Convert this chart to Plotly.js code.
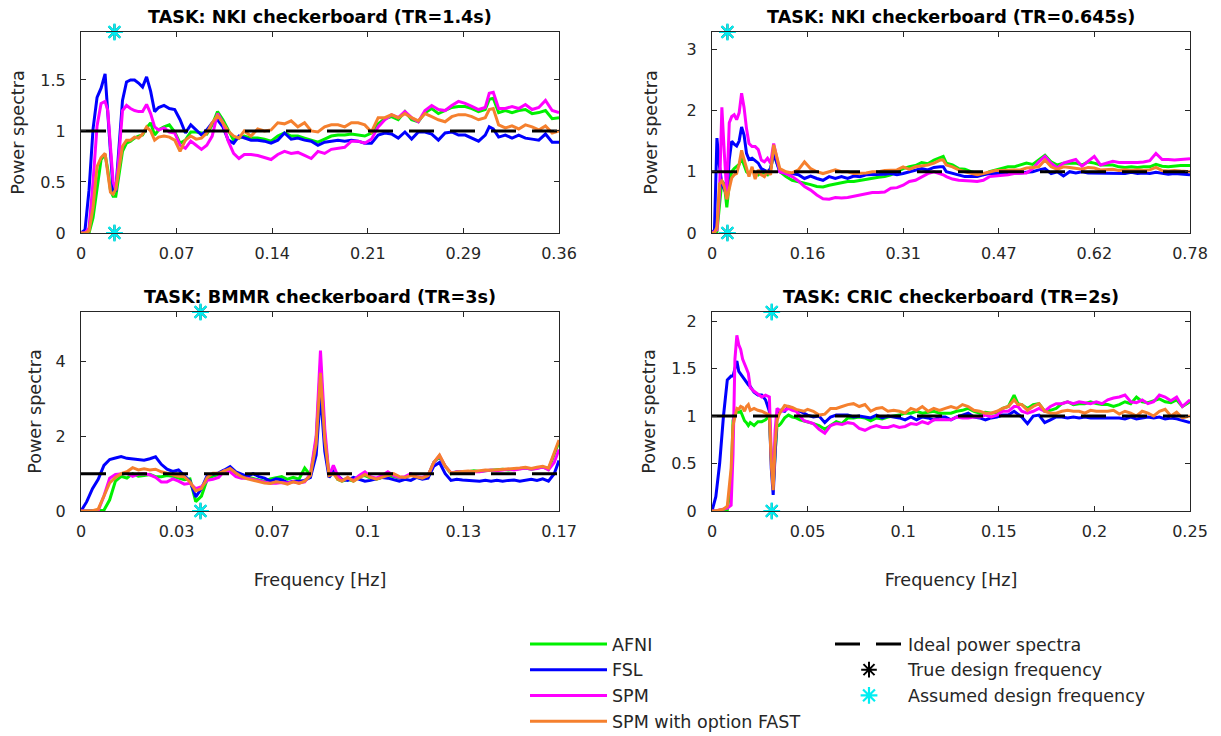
<!DOCTYPE html>
<html>
<head>
<meta charset="utf-8">
<script src="https://cdn.plot.ly/plotly-3.0.1.min.js"></script>
<style>html,body{margin:0;padding:0;background:#fff}#chart{width:1221px;height:736px}</style>
</head>
<body>
<div id="chart"></div>
<script>
// ---------- labels ----------
const methods = ['AFNI', 'FSL', 'SPM', 'SPM with option FAST'];
const panelTitles = ['TASK: NKI checkerboard (TR=1.4s)', 'TASK: NKI checkerboard (TR=0.645s)',
                     'TASK: BMMR checkerboard (TR=3s)', 'TASK: CRIC checkerboard (TR=2s)'];
const xTickTextTL = ['0', '0.07', '0.14', '0.21', '0.29', '0.36'];
const xTickTextTR = ['0', '0.16', '0.31', '0.47', '0.62', '0.78'];
const xTickTextBL = ['0', '0.03', '0.07', '0.1', '0.13', '0.17'];
const xTickTextBR = ['0', '0.05', '0.1', '0.15', '0.2', '0.25'];
const yTicksTL = [0, 0.5, 1, 1.5];
const yTicksTR = [0, 1, 2, 3];
const yTicksBL = [0, 2, 4];
const yTicksBR = [0, 0.5, 1, 1.5, 2];
const nyquist = [0.3571, 0.7752, 0.16667, 0.25];
const yTop = [1.97, 3.28, 5.33, 2.095];
const designFreq = [0.025, 0.025, 0.041667, 0.03125];
const idealLevel = 1;

// ---------- NKI TR=1.4s ----------
const fTL = [0,0.003,0.006,0.009,0.012,0.015,0.018,0.02,0.022,0.024,
0.026,0.028,0.031,0.034,0.037,0.04,0.043,0.046,0.049,0.052,
0.055,0.058,0.062,0.066,0.07,0.074,0.078,0.082,0.086,0.09,
0.094,0.098,0.102,0.106,0.11,0.114,0.118,0.122,0.127,0.132,
0.137,0.142,0.147,0.152,0.157,0.162,0.167,0.172,0.177,0.182,
0.187,0.192,0.197,0.202,0.207,0.212,0.217,0.222,0.227,0.232,
0.237,0.242,0.247,0.252,0.257,0.262,0.267,0.272,0.277,0.282,
0.287,0.292,0.297,0.302,0.305,0.308,0.312,0.317,0.322,0.327,
0.332,0.337,0.342,0.347,0.352,0.3571];
const afniTL = [0,0,0,0.15,0.45,0.72,0.77,0.62,0.42,0.36,
0.36,0.55,0.8,0.88,0.9,0.93,0.95,0.96,1.03,1.08,
0.96,1.01,1.04,1.06,0.99,0.88,0.91,0.99,0.99,0.98,
0.97,1.06,1.19,1.11,1.01,0.91,0.93,0.95,0.93,0.93,
0.92,0.9,0.95,0.98,0.95,0.95,0.93,0.91,0.89,0.92,
0.95,0.96,0.96,0.97,0.96,0.95,0.98,1.07,1.12,1.14,
1.11,1.19,1.11,1.09,1.18,1.22,1.17,1.2,1.23,1.24,
1.24,1.22,1.19,1.21,1.31,1.32,1.18,1.2,1.18,1.2,
1.21,1.17,1.18,1.2,1.12,1.13];
const fslTL = [0,0.03,0.42,1.02,1.33,1.42,1.56,1.2,0.75,0.42,
0.42,0.75,1.3,1.48,1.5,1.5,1.47,1.43,1.53,1.39,
1.19,1.23,1.25,1.22,1.21,1.11,0.98,1.06,1.01,0.96,
1.01,1.08,1.11,1.04,0.91,0.88,0.95,0.93,0.91,0.91,
0.9,0.88,0.91,0.98,0.92,0.93,0.91,0.9,0.86,0.89,
0.9,0.91,0.9,0.91,0.9,0.88,0.88,0.96,0.98,0.97,
0.93,0.99,0.92,0.99,0.99,0.97,0.91,0.98,0.99,0.96,
0.96,0.93,0.9,0.96,1.04,1.02,0.94,0.96,0.93,0.96,
0.93,0.92,0.91,0.97,0.89,0.89];
const spmTL = [0,0,0.05,0.5,1.05,1.27,1.29,1.2,0.85,0.5,
0.42,0.7,1.2,1.25,1.22,1.2,1.19,1.19,1.26,1.17,
1.04,1.01,1.03,0.99,0.98,0.86,0.83,0.9,0.86,0.82,
0.86,0.95,1.17,1.08,0.9,0.78,0.73,0.77,0.77,0.76,
0.74,0.72,0.77,0.8,0.78,0.79,0.76,0.73,0.8,0.78,
0.82,0.83,0.84,0.9,0.9,0.88,0.92,1.04,1.11,1.16,
1.13,1.19,1.13,1.09,1.2,1.25,1.21,1.2,1.25,1.29,
1.27,1.24,1.21,1.23,1.37,1.38,1.22,1.22,1.24,1.22,
1.26,1.21,1.23,1.3,1.2,1.18];
const fastTL = [0,0,0.02,0.25,0.65,0.74,0.78,0.6,0.4,0.38,
0.43,0.6,0.85,0.91,0.91,0.94,0.93,0.97,1.04,1.0,
0.91,0.94,0.95,0.94,0.91,0.8,0.91,0.95,0.92,0.93,
0.98,1.08,1.15,1.08,1.0,0.95,0.93,1.0,0.95,1.02,
1.0,1.01,1.08,1.07,1.1,1.04,1.08,1.0,0.99,1.04,
1.06,1.06,1.04,1.08,1.08,1.06,0.99,1.13,1.13,1.16,
1.13,1.17,1.13,1.1,1.17,1.14,1.11,1.09,1.14,1.16,
1.16,1.14,1.11,1.13,1.21,1.22,1.06,1.03,1.05,1.02,
1.06,1.04,1.01,1.05,0.98,1.0];

// ---------- NKI TR=0.645s ----------
const fTR = [0,0.004,0.008,0.012,0.016,0.02,0.024,0.028,0.032,0.036,
0.04,0.044,0.048,0.052,0.056,0.06,0.065,0.07,0.075,0.08,
0.085,0.09,0.095,0.1,0.11,0.12,0.13,0.14,0.15,0.16,
0.17,0.18,0.19,0.2,0.21,0.22,0.23,0.24,0.25,0.26,
0.27,0.28,0.29,0.3,0.31,0.32,0.33,0.34,0.35,0.36,
0.37,0.375,0.38,0.39,0.4,0.41,0.42,0.43,0.44,0.45,
0.46,0.47,0.48,0.49,0.5,0.51,0.52,0.53,0.54,0.55,
0.56,0.57,0.58,0.59,0.6,0.61,0.62,0.63,0.64,0.65,
0.66,0.67,0.68,0.69,0.7,0.71,0.72,0.73,0.74,0.75,
0.76,0.7752];
const afniTR = [0,0,0.02,0.5,0.85,0.8,0.42,0.8,1.0,1.05,
1.08,1.12,1.22,1.1,1.0,0.97,1.03,0.98,0.95,1.0,
0.97,0.95,1.05,1.3,1.0,0.92,0.86,0.84,0.81,0.79,
0.76,0.75,0.78,0.8,0.82,0.84,0.84,0.86,0.88,0.89,
0.91,0.92,0.95,1.0,1.05,1.08,1.1,1.15,1.13,1.19,
1.23,1.25,1.14,1.11,1.05,1.04,1.0,0.97,0.95,1.0,
1.03,1.05,1.08,1.08,1.11,1.14,1.12,1.19,1.27,1.16,
1.11,1.14,1.14,1.14,1.11,1.16,1.14,1.11,1.11,1.11,
1.08,1.07,1.08,1.07,1.08,1.08,1.12,1.09,1.08,1.09,
1.1,1.1];
const fslTR = [0,0.05,1.55,1.1,0.8,0.7,0.62,1.2,1.5,1.45,
1.42,1.5,1.73,1.6,1.3,1.2,1.22,1.18,1.14,1.05,
1.02,1.0,1.05,1.3,1.0,0.97,0.97,0.95,0.89,0.93,
0.89,0.86,0.92,0.89,0.92,0.89,0.93,0.92,0.95,0.95,
0.95,0.96,0.97,0.95,0.97,1.0,1.02,1.05,1.03,1.07,
1.08,1.08,1.0,0.97,0.95,0.92,0.92,0.92,0.95,0.97,
0.97,0.97,0.98,0.98,0.98,0.99,1.0,1.03,1.05,0.97,
1.0,0.93,1.0,0.98,1.0,0.98,0.98,0.97,0.97,0.97,
0.98,0.97,0.99,0.97,0.98,0.97,0.99,0.97,0.96,0.97,
0.96,0.95];
const spmTR = [0,0.02,0.05,0.6,2.05,1.3,0.65,1.8,1.9,1.93,
1.85,1.96,2.28,2.05,1.7,1.46,1.41,1.41,1.36,1.19,
1.16,1.22,1.14,1.46,1.0,0.97,0.92,0.85,0.76,0.7,
0.62,0.56,0.55,0.58,0.57,0.58,0.6,0.62,0.64,0.66,
0.66,0.67,0.73,0.74,0.78,0.84,0.86,0.92,0.97,1.0,
0.97,0.95,0.92,0.88,0.86,0.86,0.85,0.84,0.86,0.92,
0.93,0.93,0.95,0.97,0.97,0.98,1.05,1.16,1.25,1.14,
1.06,1.14,1.17,1.2,1.09,1.17,1.25,1.11,1.14,1.17,
1.15,1.15,1.14,1.15,1.16,1.18,1.3,1.2,1.2,1.19,
1.2,1.21];
const fastTR = [0,0,0.1,0.8,0.85,0.75,0.55,0.72,0.9,0.95,
0.97,1.12,1.35,1.2,1.05,0.92,1.08,0.88,1.03,0.95,
0.92,1.0,0.95,1.44,1.05,1.0,0.98,1.03,1.16,1.05,
1.0,0.97,1.0,1.03,1.0,1.0,0.97,0.97,0.98,1.0,
1.0,1.02,1.03,1.03,1.08,1.04,1.08,1.09,1.11,1.14,
1.19,1.19,1.11,1.08,1.03,1.0,0.97,0.95,0.97,1.0,
1.02,1.02,1.03,1.03,1.03,1.06,1.07,1.08,1.19,1.08,
1.04,1.08,1.07,1.06,1.04,1.07,1.06,1.03,1.04,1.04,
1.02,1.03,1.02,1.03,1.02,1.03,1.07,1.02,1.01,1.02,
1.01,1.0];

// ---------- BMMR TR=3s ----------
const fBL = [0,0.002,0.004,0.006,0.008,0.01,0.012,0.014,0.016,0.018,
0.02,0.022,0.024,0.026,0.028,0.03,0.032,0.034,0.036,0.038,
0.04,0.042,0.044,0.046,0.048,0.05,0.052,0.054,0.056,0.058,
0.06,0.062,0.064,0.066,0.068,0.07,0.072,0.074,0.076,0.078,
0.08,0.082,0.0835,0.085,0.0865,0.088,0.0895,0.091,0.093,0.095,
0.097,0.099,0.101,0.103,0.105,0.107,0.109,0.111,0.113,0.115,
0.117,0.119,0.121,0.123,0.125,0.127,0.129,0.131,0.133,0.135,
0.137,0.139,0.141,0.143,0.145,0.147,0.149,0.151,0.153,0.155,
0.157,0.159,0.161,0.163,0.165,0.16667];
const afniBL = [0,0,0,0,0.02,0.3,0.8,0.93,0.88,1.0,
0.93,0.95,0.98,0.92,0.92,0.95,0.93,0.88,0.84,0.86,
0.25,0.4,0.85,0.93,0.97,1.02,1.1,1.0,0.95,0.9,
0.87,0.83,0.8,0.86,0.9,0.92,0.85,0.9,0.85,1.15,
0.95,1.9,3.9,2.0,0.92,1.1,0.85,0.8,0.85,0.8,
0.92,0.95,0.88,0.85,0.9,0.95,0.92,0.88,0.9,0.98,
0.9,0.88,0.95,1.3,1.45,1.2,1.0,1.05,1.06,1.05,
1.08,1.06,1.08,1.1,1.1,1.12,1.1,1.12,1.14,1.15,
1.12,1.15,1.18,1.12,1.5,1.85];
const fslBL = [0,0.25,0.6,0.85,1.22,1.38,1.42,1.46,1.41,1.39,
1.38,1.36,1.4,1.45,1.25,1.12,1.06,1.1,0.95,0.8,
0.38,0.6,0.95,0.98,1.02,1.1,1.19,1.05,1.0,0.93,
1.0,0.92,0.88,0.8,0.86,0.84,0.76,0.8,0.8,0.82,
0.9,1.5,3.15,1.6,0.9,1.05,0.95,0.85,0.82,0.9,
0.85,0.8,0.82,0.85,0.9,0.88,0.85,0.8,0.85,0.82,
0.9,0.85,0.88,1.2,1.3,1.0,0.82,0.85,0.83,0.82,
0.82,0.8,0.82,0.8,0.82,0.8,0.82,0.83,0.8,0.82,
0.85,0.82,0.86,0.8,1.0,1.35];
const spmBL = [0,0,0,0.01,0.4,0.88,0.98,1.0,1.01,0.93,
0.99,1.0,0.97,0.9,0.78,0.78,0.86,0.8,0.72,0.74,
0.6,0.65,0.82,0.85,0.9,1.08,1.05,0.92,0.88,0.88,
0.84,0.8,0.76,0.74,0.74,0.76,0.75,0.78,0.75,0.78,
1.0,2.0,4.3,2.2,0.95,1.22,0.95,0.82,0.88,0.82,
0.95,1.05,0.92,0.88,0.95,1.05,0.95,0.9,0.92,1.0,
0.92,0.9,0.95,1.3,1.48,1.2,1.02,1.05,1.05,1.05,
1.07,1.05,1.08,1.1,1.08,1.1,1.12,1.1,1.13,1.15,
1.12,1.14,1.18,1.1,1.3,1.65];
const fastBL = [0,0,0.01,0.05,0.4,0.75,0.9,1.0,1.05,1.16,
1.1,1.13,1.1,1.12,1.05,1.01,0.98,0.93,0.92,0.78,
0.54,0.6,0.9,1.01,1.01,1.08,1.14,1.02,0.92,0.86,
0.82,0.79,0.75,0.74,0.78,0.76,0.72,0.78,0.74,0.8,
0.95,1.8,3.7,1.9,0.95,1.0,0.85,0.8,0.9,0.8,
0.9,0.98,0.9,0.85,0.9,0.95,1.0,0.92,0.9,0.95,
0.92,0.88,0.95,1.3,1.5,1.2,1.02,1.05,1.06,1.07,
1.06,1.08,1.1,1.09,1.1,1.12,1.12,1.13,1.15,1.17,
1.14,1.17,1.2,1.15,1.55,1.9];

// ---------- CRIC TR=2s ----------
const fBR = [0,0.002,0.004,0.006,0.008,0.01,0.011,0.012,0.013,0.014,
0.015,0.016,0.017,0.018,0.019,0.02,0.022,0.024,0.026,0.028,
0.03,0.031,0.032,0.033,0.034,0.035,0.036,0.038,0.04,0.042,
0.044,0.046,0.048,0.05,0.053,0.056,0.059,0.062,0.065,0.068,
0.071,0.074,0.077,0.08,0.083,0.086,0.089,0.092,0.095,0.098,
0.101,0.104,0.107,0.11,0.113,0.116,0.119,0.122,0.125,0.128,
0.131,0.134,0.137,0.14,0.143,0.146,0.149,0.152,0.155,0.158,
0.16,0.162,0.165,0.168,0.171,0.174,0.177,0.18,0.183,0.186,
0.189,0.192,0.195,0.198,0.201,0.204,0.207,0.21,0.213,0.216,
0.219,0.222,0.225,0.228,0.231,0.234,0.237,0.24,0.243,0.246,
0.25];
const afniBR = [0,0,0,0,0.01,0.3,0.95,1.05,1.04,1.04,
1.05,1.0,0.95,0.93,0.9,0.93,0.9,0.94,0.94,0.96,
1.0,0.55,0.25,0.6,0.9,0.9,0.92,0.98,1.01,0.99,
0.98,0.96,0.95,0.94,0.92,0.9,0.86,0.9,0.94,0.92,
0.98,0.98,0.99,0.98,0.95,0.98,0.97,0.99,1.0,1.01,
1.03,1.03,1.05,1.03,1.04,1.05,1.03,1.03,1.03,1.05,
1.06,1.08,1.05,1.03,1.04,1.03,1.04,1.08,1.1,1.22,
1.13,1.12,1.08,1.12,1.13,1.05,1.06,1.08,1.13,1.15,
1.12,1.13,1.13,1.15,1.13,1.12,1.12,1.1,1.12,1.15,
1.13,1.2,1.15,1.14,1.16,1.18,1.15,1.14,1.17,1.1,
1.15];
const fslBR = [0,0.15,0.5,1.0,1.38,1.42,1.42,1.5,1.58,1.47,
1.44,1.41,1.38,1.35,1.33,1.31,1.25,1.22,1.22,1.17,
1.05,0.45,0.17,0.59,1.0,1.06,1.06,1.05,1.1,1.08,
1.06,1.05,1.03,1.01,0.99,1.0,0.93,0.99,1.01,1.01,
1.01,0.99,1.0,0.99,0.98,1.01,0.98,1.0,0.99,0.98,
0.96,0.99,0.96,0.99,0.98,0.96,0.99,0.99,0.96,0.99,
1.01,1.03,0.99,0.98,0.96,0.98,0.99,1.01,1.01,1.05,
1.02,0.99,0.92,1.0,1.01,0.93,0.96,0.99,0.99,0.98,
0.99,0.98,0.99,0.98,0.98,0.98,0.98,0.98,0.98,0.97,
0.99,0.97,0.98,0.99,0.98,0.99,0.97,0.98,0.97,0.95,
0.93];
const spmBR = [0,0,0.01,0.02,0.03,0.06,0.6,1.6,1.85,1.75,
1.7,1.6,1.54,1.5,1.45,1.3,1.26,1.23,1.2,1.22,
1.2,0.6,0.28,0.85,1.08,1.06,1.05,1.06,1.08,1.06,
1.05,1.0,0.95,0.94,0.92,0.86,0.82,0.9,0.92,0.91,
0.93,0.92,0.87,0.85,0.88,0.9,0.88,0.88,0.9,0.88,
0.89,0.92,0.91,0.94,0.92,0.96,0.96,0.96,0.96,0.99,
0.98,0.98,0.99,0.99,1.01,0.99,1.01,1.05,1.05,1.1,
1.1,1.05,1.03,1.05,1.08,1.05,1.1,1.13,1.13,1.15,
1.13,1.15,1.14,1.13,1.15,1.13,1.17,1.19,1.2,1.22,
1.15,1.14,1.17,1.13,1.15,1.22,1.2,1.16,1.2,1.1,
1.17];
const fastBR = [0,0,0.01,0.02,0.05,0.45,0.9,1.01,1.08,1.07,
1.1,1.09,1.05,1.1,1.12,1.06,1.08,1.06,1.05,1.03,
1.01,0.5,0.22,0.7,0.95,1.01,1.05,1.11,1.1,1.09,
1.07,1.06,1.05,1.07,1.05,1.01,1.02,1.08,1.08,1.1,
1.12,1.13,1.1,1.12,1.05,1.08,1.09,1.05,1.06,1.05,
1.03,1.08,1.06,1.1,1.05,1.08,1.06,1.08,1.1,1.08,
1.12,1.1,1.06,1.05,1.03,1.03,1.05,1.08,1.1,1.17,
1.12,1.12,1.06,1.1,1.13,1.05,1.03,1.03,1.05,1.06,
1.05,1.05,1.03,1.06,1.05,1.05,1.05,1.06,1.02,1.05,
1.03,1.0,1.05,1.03,1.0,1.05,1.07,1.0,1.04,0.98,
1.0];

// ---------- assemble ----------
const panels = [
  {f: fTL, s: [afniTL, fslTL, spmTL, fastTL], xt: xTickTextTL, yt: yTicksTL},
  {f: fTR, s: [afniTR, fslTR, spmTR, fastTR], xt: xTickTextTR, yt: yTicksTR},
  {f: fBL, s: [afniBL, fslBL, spmBL, fastBL], xt: xTickTextBL, yt: yTicksBL},
  {f: fBR, s: [afniBR, fslBR, spmBR, fastBR], xt: xTickTextBR, yt: yTicksBR}
];
const methodColors = ['#00f000', '#0000ff', '#ff00ff', '#f5802e'];
const cyan = '#00eef2';
const axisColor = '#262626';
const FONT = 'DejaVu Sans, Liberation Sans, sans-serif';
const W = 1221, H = 736;
const xDom = [[81/W, 559/W], [712/W, 1190/W], [81/W, 559/W], [712/W, 1190/W]];
const yDom = [[1-233/H, 1-32/H], [1-233/H, 1-32/H], [1-511/H, 1-312/H], [1-511/H, 1-312/H]];
const yTitleStandoff = [11, 24, 9, 11];

const traces = [];
const layout = {
  width: W, height: H,
  margin: {l: 0, r: 0, t: 0, b: 0, autoexpand: false},
  paper_bgcolor: '#fff', plot_bgcolor: '#fff',
  font: {family: FONT, size: 16, color: axisColor},
  showlegend: true,
  legend: {x: 525/W, y: 1-626/H, xanchor: 'left', yanchor: 'top', itemwidth: 77,
           font: {family: FONT, size: 17.5, color: axisColor}, bgcolor: 'rgba(0,0,0,0)', traceorder: 'normal'},
  legend2: {x: 830/W, y: 1-626/H, xanchor: 'left', yanchor: 'top', itemwidth: 68,
            font: {family: FONT, size: 17.5, color: axisColor}, bgcolor: 'rgba(0,0,0,0)', traceorder: 'normal'},
  annotations: []
};

panels.forEach((p, i) => {
  const sfx = i === 0 ? '' : String(i + 1);
  const xa = 'x' + sfx, ya = 'y' + sfx;
  const fmax = nyquist[i];
  p.s.forEach((vals, k) => {
    traces.push({type: 'scatter', mode: 'lines', x: p.f, y: vals, xaxis: xa, yaxis: ya,
      name: methods[k], legend: 'legend', showlegend: i === 0,
      line: {color: methodColors[k], width: 3}});
  });
  traces.push({type: 'scatter', mode: 'lines', x: [p.f[0], p.f[p.f.length - 1]], y: [idealLevel, idealLevel],
    xaxis: xa, yaxis: ya, name: 'Ideal power spectra', legend: 'legend2', showlegend: i === 0,
    line: {color: '#000', width: 3, dash: '25px,16px'}});
  traces.push({type: 'scatter', mode: 'markers', x: [designFreq[i], designFreq[i]], y: [0, yTop[i]],
    xaxis: xa, yaxis: ya, name: 'True design frequency', legend: 'legend2', showlegend: i === 0, cliponaxis: false,
    marker: {symbol: 'asterisk-open', size: 13, color: '#000', line: {color: '#000', width: 2}}});
  traces.push({type: 'scatter', mode: 'markers', x: [designFreq[i], designFreq[i]], y: [0, yTop[i]],
    xaxis: xa, yaxis: ya, name: 'Assumed design frequency', legend: 'legend2', showlegend: i === 0, cliponaxis: false,
    marker: {symbol: 'asterisk-open', size: 14, color: cyan, line: {color: cyan, width: 2.2}}});

  const tickvals = p.xt.map((_, j) => fmax * j / 5);
  const common = {showline: true, linecolor: axisColor, linewidth: 1, mirror: 'ticks', ticks: 'inside',
    ticklen: 5, tickcolor: axisColor, showgrid: false, zeroline: false, fixedrange: true,
    tickfont: {family: FONT, size: 16, color: axisColor}};
  layout['xaxis' + sfx] = Object.assign({}, common, {
    domain: xDom[i], anchor: ya, range: [0, fmax], tickmode: 'array', tickvals: tickvals, ticktext: p.xt,
    ticklabelstandoff: 6,
    title: i >= 2 ? {text: 'Frequency [Hz]', font: {family: FONT, size: 17.6, color: axisColor}, standoff: 33} : {text: ''}
  });
  layout['yaxis' + sfx] = Object.assign({}, common, {
    domain: yDom[i], anchor: xa, range: [0, yTop[i]], tickmode: 'array', tickvals: p.yt,
    ticklabelstandoff: 11,
    title: {text: 'Power spectra', font: {family: FONT, size: 17.6, color: axisColor}, standoff: yTitleStandoff[i]}
  });
  layout.annotations.push({text: '<b>' + panelTitles[i] + '</b>', xref: 'paper', yref: 'paper',
    x: (xDom[i][0] + xDom[i][1]) / 2, y: i < 2 ? 1 - 17/H : 1 - 297/H, xanchor: 'center', yanchor: 'middle',
    showarrow: false, font: {family: FONT, size: 17.6, color: '#000'}});
});

Plotly.newPlot('chart', traces, layout, {displayModeBar: false, responsive: false});
</script>
</body>
</html>
